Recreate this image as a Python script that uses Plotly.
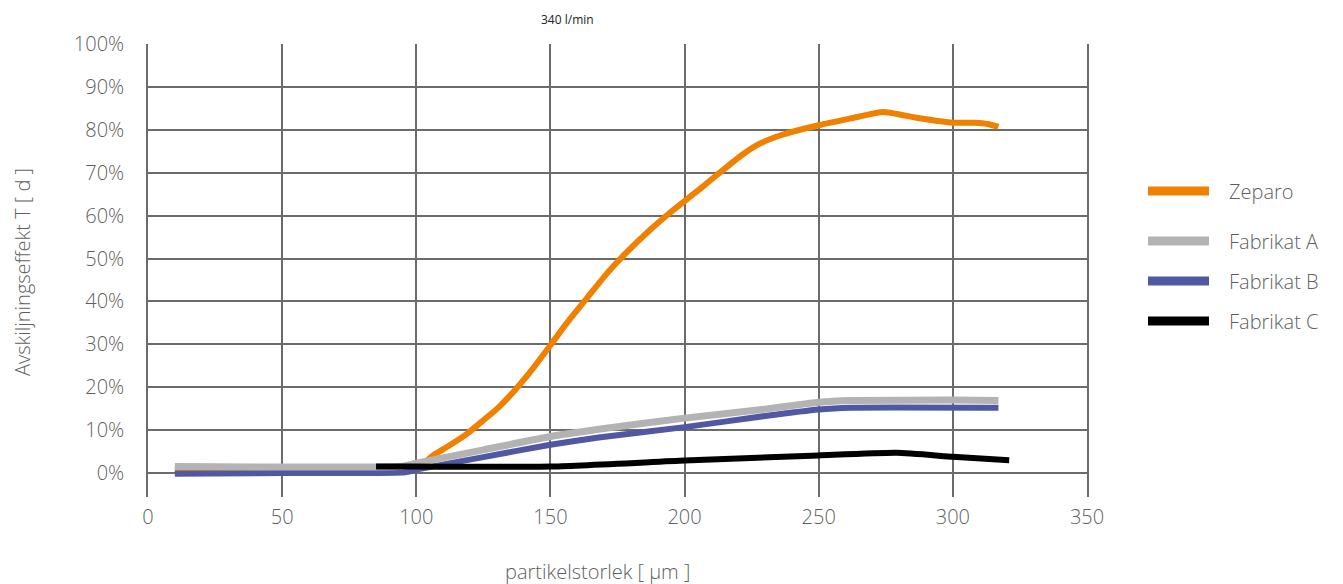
import plotly.graph_objects as go

# ---- data ----
zeparo_x = [10, 50, 95, 100, 103, 106, 112, 119, 125, 131, 137, 143, 150, 156, 164, 171, 178,
            187, 194, 200, 206, 213, 221, 228, 237, 250, 262, 274, 287, 300, 308, 313, 317]
zeparo_y = [0.7, 0.7, 0.8, 1.2, 2.4, 4.0, 6.3, 9.2, 12.3, 15.5, 19.5, 24.0, 29.8, 34.9, 41.1, 46.5, 51.2,
            56.6, 60.4, 63.4, 66.4, 70.0, 74.0, 76.8, 79.0, 81.1, 82.7, 84.2, 82.8, 81.7, 81.7, 81.4, 80.7]

fab_a_x = [10, 95, 100, 125, 150, 168, 200, 230, 250, 262, 300, 317]
fab_a_y = [1.5, 1.6, 2.3, 5.4, 8.5, 10.2, 12.8, 14.9, 16.5, 16.9, 17.0, 16.9]

fab_b_x = [10, 50, 96, 100, 125, 150, 168, 200, 230, 250, 262, 317]
fab_b_y = [-0.2, 0.0, 0.2, 0.8, 3.7, 6.6, 8.3, 10.7, 13.3, 14.8, 15.2, 15.2]

fab_c_x = [85, 100, 150, 200, 250, 279, 300, 321]
fab_c_y = [1.5, 1.5, 1.5, 2.9, 4.1, 4.7, 3.8, 3.0]

x_ticks = [0, 50, 100, 150, 200, 250, 300, 350]
y_ticks = [0, 10, 20, 30, 40, 50, 60, 70, 80, 90, 100]
y_tick_labels = [f"{v}%" for v in y_ticks]

series = [
    ("Zeparo", zeparo_x, zeparo_y, "#F08000", 6),
    ("Fabrikat B", fab_b_x, fab_b_y, "#5057A3", 6),
    ("Fabrikat A", fab_a_x, fab_a_y, "#B3B3B3", 7),
    ("Fabrikat C", fab_c_x, fab_c_y, "#000000", 6),
]
legend_order = ["Zeparo", "Fabrikat A", "Fabrikat B", "Fabrikat C"]

FONT = "Open Sans"
TXT = "#5f5f5f"
GRID = "#6b6b6b"
FS = 20

fig = go.Figure()
for name, xs, ys, col, w in series:
    fig.add_trace(go.Scatter(
        x=xs, y=[v / 100 for v in ys], name=name, mode="lines",
        line=dict(color=col, width=w, shape="spline", smoothing=0.5),
        showlegend=False,
    ))

W, H = 1343, 584
L, R, T, B = 148, 1087, 44, 497   # plot area in window pixels
pw, ph = R - L, B - T

def px_x(p):
    return (p - L) / pw

def px_y(p):
    return (B - p) / ph

shapes = []
annotations = []
colors = {n: c for n, _, _, c, _ in series}
legend_y = [191, 241, 281, 321]
for name, ly in zip(legend_order, legend_y):
    shapes.append(dict(type="line", xref="paper", yref="paper",
                       x0=px_x(1148), x1=px_x(1209), y0=px_y(ly), y1=px_y(ly),
                       line=dict(color=colors[name], width=9)))
    annotations.append(dict(text=name, xref="paper", yref="paper",
                            x=px_x(1227), y=px_y(ly), xanchor="left", yanchor="middle",
                            showarrow=False, font=dict(family=FONT, size=FS, color=TXT, weight=300)))

annotations.append(dict(text="340 l/min", xref="paper", yref="paper",
                        x=px_x(567), y=px_y(20), xanchor="center", yanchor="middle",
                        showarrow=False, font=dict(family=FONT, size=12, color="#222222")))
annotations.append(dict(text="Avskiljningseffekt T [ d ]", xref="paper", yref="paper",
                        x=px_x(22), y=px_y(272), xanchor="center", yanchor="middle", textangle=-90,
                        showarrow=False, font=dict(family=FONT, size=FS, color=TXT, weight=300)))
annotations.append(dict(text="partikelstorlek [ μm ]", xref="paper", yref="paper",
                        x=px_x(597), y=px_y(571), xanchor="center", yanchor="middle",
                        showarrow=False, font=dict(family=FONT, size=FS, color=TXT, weight=300)))

tickfont = dict(family=FONT, size=FS, color=TXT, weight=300)

fig.update_layout(
    width=W, height=H,
    margin=dict(l=L, r=W - R, t=T, b=H - B, pad=0),
    paper_bgcolor="white", plot_bgcolor="white",
    shapes=shapes, annotations=annotations,
    font=dict(family=FONT, size=FS, color=TXT),
    xaxis=dict(range=[0, 350], tickvals=x_ticks, ticktext=[str(v) for v in x_ticks],
               showgrid=True, gridcolor=GRID, gridwidth=1.5, zeroline=False,
               showline=False, ticks="", ticklabelstandoff=6, tickfont=tickfont),
    yaxis=dict(range=[-(B - 473) / ((473 - 44) / 1.0), 1.0005],
               tickvals=[v / 100 for v in y_ticks], ticktext=y_tick_labels,
               showgrid=True, gridcolor=GRID, gridwidth=1.5, zeroline=False,
               showline=True, linecolor=GRID, linewidth=1.5, mirror=True,
               ticks="", ticklabelstandoff=18, tickfont=tickfont),
)

fig.write_html(
    "out.html",
    config={"displayModeBar": False},
    post_script="document.body.style.margin='0';document.body.style.overflow='hidden';",
)
